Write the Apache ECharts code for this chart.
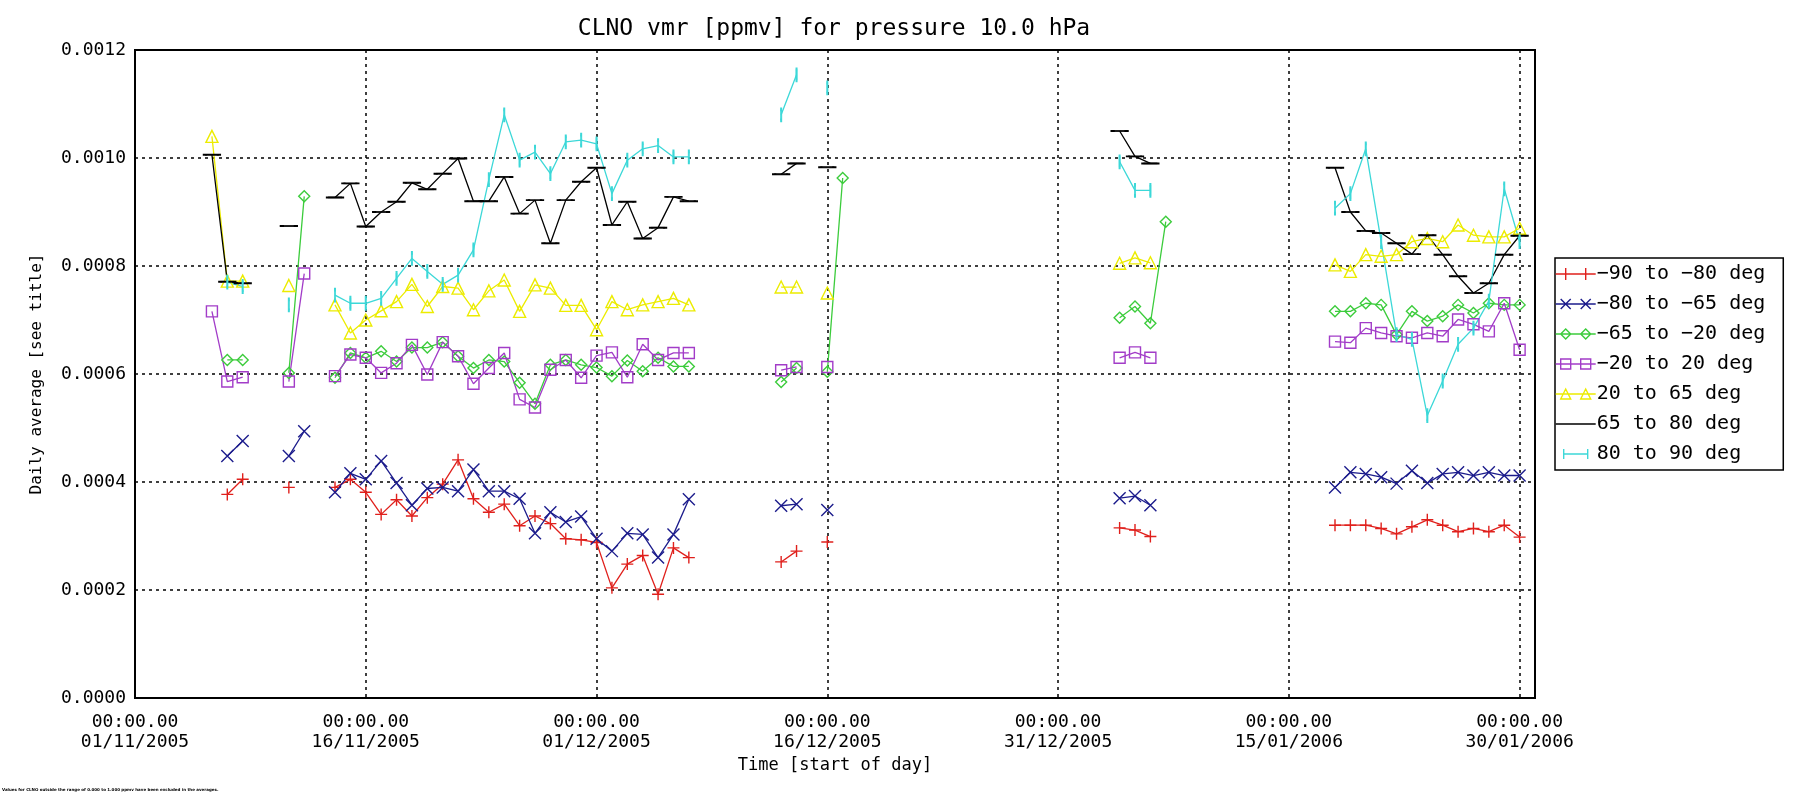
<!DOCTYPE html>
<html>
<head>
<meta charset="utf-8">
<script src="https://cdn.jsdelivr.net/npm/echarts@6/dist/echarts.min.js"></script>
<style>
  html, body { margin: 0; padding: 0; background: #fff; }
  #chart { width: 1794px; height: 798px; }
</style>
</head>
<body>
<div id="chart"></div>
<script>
const startDate = '2005-11-01'
const dates = [
  '2005-11-06', '2005-11-07', '2005-11-08',
  '2005-11-11', '2005-11-12',
  '2005-11-14', '2005-11-15', '2005-11-16', '2005-11-17', '2005-11-18', '2005-11-19',
  '2005-11-20', '2005-11-21', '2005-11-22', '2005-11-23', '2005-11-24', '2005-11-25',
  '2005-11-26', '2005-11-27', '2005-11-28', '2005-11-29', '2005-11-30', '2005-12-01',
  '2005-12-02', '2005-12-03', '2005-12-04', '2005-12-05', '2005-12-06', '2005-12-07',
  '2005-12-13', '2005-12-14', '2005-12-16', '2005-12-17',
  '2006-01-04', '2006-01-05', '2006-01-06', '2006-01-07',
  '2006-01-18', '2006-01-19', '2006-01-20', '2006-01-21', '2006-01-22', '2006-01-23',
  '2006-01-24', '2006-01-25', '2006-01-26', '2006-01-27', '2006-01-28', '2006-01-29', '2006-01-30'
]
const names = ['\u221290 to \u221280 deg', '\u221280 to \u221265 deg', '\u221265 to \u221220 deg',
  '\u221220 to 20 deg', '20 to 65 deg', '65 to 80 deg', '80 to 90 deg']

const red = [
  null, 0.000377, 0.000405,
  0.00039, null,
  0.00039, 0.000405, 0.000381, 0.00034, 0.000367, 0.000337, 0.000371, 0.000396, 0.000441, 0.000369, 0.000344, 0.000359,
  0.000319, 0.000337, 0.000323, 0.000295, 0.000293, 0.000288, 0.000204, 0.000248, 0.000264, 0.000192, 0.000278, 0.00026,
  0.000252, 0.000272, 0.000289, null,
  0.000315, 0.000311, 0.000299, null,
  0.00032, 0.00032, 0.00032, 0.000314, 0.000304, 0.000317, 0.00033, 0.00032, 0.000308, 0.000314, 0.000308, 0.00032, 0.000298
]
const blue = [
  null, 0.000448, 0.000476,
  0.000448, 0.000494,
  0.000381, 0.000416, 0.000405, 0.000439, 0.000398, 0.000357, 0.000388, 0.00039, 0.000383, 0.000423, 0.000383, 0.000383,
  0.000369, 0.000305, 0.000344, 0.000326, 0.000336, 0.000295, 0.000272, 0.000305, 0.000303, 0.00026, 0.000303, 0.000368,
  0.000356, 0.000359, 0.000348, null,
  0.00037, 0.000374, 0.000357, null,
  0.00039, 0.000418, 0.000415, 0.000409, 0.000397, 0.000421, 0.000398, 0.000415, 0.000418, 0.000412, 0.000418, 0.000412, 0.000412
]
const green = [
  null, 0.000626, 0.000626,
  0.000602, 0.000929,
  0.000593, 0.000639, 0.00063, 0.000642, 0.000623, 0.000649, 0.000649, 0.000659, 0.000633, 0.000611, 0.000626, 0.000623,
  0.000584, 0.000545, 0.000617, 0.000626, 0.000617, 0.000612, 0.000596, 0.000625, 0.000605, 0.00063, 0.000614, 0.000614,
  0.000585, 0.000611, 0.000604, 0.000963,
  0.000704, 0.000725, 0.000694, 0.000882,
  0.000716, 0.000716, 0.000731, 0.000728, 0.000673, 0.000716, 0.000698, 0.000707, 0.000728, 0.000713, 0.000731, 0.000728, 0.000728
]
const purple = [
  0.000716, 0.000586, 0.000594,
  0.000586, 0.000786,
  0.000596, 0.000636, 0.00063, 0.000602, 0.00062, 0.000654, 0.000599, 0.000659, 0.000633, 0.000582, 0.000611, 0.000639,
  0.000553, 0.000538, 0.000608, 0.000626, 0.000593, 0.000634, 0.00064, 0.000594, 0.000655, 0.000626, 0.000639, 0.000639,
  0.000607, 0.000613, 0.000613, null,
  0.00063, 0.00064, 0.00063, null,
  0.00066, 0.000658, 0.000685, 0.000676, 0.00067, 0.000667, 0.000676, 0.00067, 0.000701, 0.000692, 0.000679, 0.000731, 0.000645
]
const yellow = [
  0.00104, 0.000772, 0.000772,
  0.000764, null,
  0.000728, 0.000676, 0.0007, 0.000717, 0.000734, 0.000766, 0.000725, 0.000762, 0.000759, 0.000719, 0.000754, 0.000774,
  0.000716, 0.000765, 0.000759, 0.000727, 0.000727, 0.000682, 0.000734, 0.000719, 0.000728, 0.000734, 0.00074, 0.000728,
  0.000761, 0.000761, 0.00075, null,
  0.000805, 0.000815, 0.000806, null,
  0.000802, 0.00079, 0.000821, 0.000818, 0.000821, 0.000845, 0.000851, 0.000845, 0.000876, 0.000857, 0.000854, 0.000854, 0.00087
]
const black = [
  0.001006, 0.000771, 0.000768,
  0.000874, null,
  0.000927, 0.000953, 0.000873, 0.0009, 0.000919, 0.000954, 0.000942, 0.000971, 0.000999, 0.00092, 0.00092, 0.000965,
  0.000897, 0.000922, 0.000842, 0.000922, 0.000956, 0.000982, 0.000876, 0.000919, 0.000851, 0.000871, 0.000928, 0.00092,
  0.00097, 0.00099, 0.000983, null,
  0.00105, 0.001003, 0.00099, null,
  0.000982, 0.0009, 0.000865, 0.000861, 0.000842, 0.000822, 0.000857, 0.000821, 0.000781, 0.00075, 0.000768, 0.000821, 0.000856
]
const cyan = [
  null, 0.00077, 0.000762,
  0.000728, null,
  0.000746, 0.000731, 0.000731, 0.00074, 0.000777, 0.000814, 0.00079, 0.000766, 0.000783, 0.00083, 0.00096, 0.00108,
  0.000996, 0.001011, 0.000971, 0.00103, 0.001033, 0.001026, 0.000934, 0.000996, 0.001017, 0.001023, 0.001002, 0.001002,
  0.00108, 0.001154, 0.00113, null,
  0.000993, 0.00094, 0.00094, null,
  0.000907, 0.000934, 0.001017, 0.000845, 0.000673, 0.000664, 0.000523, 0.000587, 0.000655, 0.000685, 0.000735, 0.000943, 0.000845
]
const yTicks = [0, 0.0002, 0.0004, 0.0006, 0.0008, 0.0010, 0.0012]

const mono = 'DejaVu Sans Mono'
const DAY = 86400000

// legend samples: line with the marker drawn at both ends (40 x 12 box)
const legendIcons = [
  'path://M0,6L40,6M10,0L10,12M30,0L30,12',
  'path://M0,6L40,6M5,1L15,11M15,1L5,11M25,1L35,11M35,1L25,11',
  'path://M0,6L40,6M10,1L15,6L10,11L5,6ZM30,1L35,6L30,11L25,6Z',
  'path://M0,6L40,6M5,1L15,1L15,11L5,11ZM25,1L35,1L35,11L25,11Z',
  'path://M0,6L40,6M10,1L15,11L5,11ZM30,1L35,11L25,11Z',
  'path://M0,0L0,0.01M0,12L0,11.99M0,6L40,6',
  'path://M0,6L0.01,6M40,6L39.99,6M8,6L32,6M8,1L8,11M32,1L32,11'
]

function toDay(s) {
  return Math.round((Date.parse(s + 'T00:00:00Z') - Date.parse(startDate + 'T00:00:00Z')) / DAY)
}
function pad(n) { return n < 10 ? '0' + n : '' + n }

// missing days break the line
function buildData(vals) {
  let out = []
  dates.forEach((d, i) => {
    let x = toDay(d)
    if (i > 0 && x - toDay(dates[i - 1]) > 1) out.push([x - 1, null])
    out.push([x, vals[i]])
  })
  return out
}

function fillOf(color, hollow) { return hollow ? 'rgba(0,0,0,0)' : color }

function makeSeries(name, vals, color, symbol, size, hollow) {
  return {
    name,
    type: 'line',
    data: buildData(vals),
    symbol,
    symbolSize: size,
    showSymbol: true,
    showAllSymbol: true,
    connectNulls: false,
    clip: false,
    lineStyle: { color, width: 1.3 },
    itemStyle: { color: fillOf(color, hollow), borderColor: color, borderWidth: 1.4 },
    emphasis: { disabled: true }
  }
}

const styles = [
  { data: red, color: '#e0201c', symbol: 'path://M0,5L10,5M5,0L5,10', size: 12, hollow: false },
  { data: blue, color: '#1c1c8c', symbol: 'path://M0,0L10,10M10,0L0,10', size: 12, hollow: false },
  { data: green, color: '#3ccc3c', symbol: 'path://M5,0L10,5L5,10L0,5Z', size: 11, hollow: true },
  { data: purple, color: '#a23cc8', symbol: 'path://M0,0L10,0L10,10L0,10Z', size: 11, hollow: true },
  { data: yellow, color: '#ecec00', symbol: 'path://M5,0L10,10L0,10Z', size: 12, hollow: true },
  { data: black, color: '#000000', symbol: 'rect', size: [14, 1.5], hollow: false },
  { data: cyan, color: '#3cd8d8', symbol: 'rect', size: [1.5, 11], hollow: false }
]

let chart = echarts.init(document.getElementById('chart'))
let option = {
  animation: false,
  backgroundColor: '#fff',
  grid: { left: 135, top: 50, width: 1400, height: 648, show: true, borderColor: '#000', borderWidth: 2 },
  xAxis: {
    type: 'value',
    min: 0,
    max: 91,
    interval: 15,
    name: 'Time [start of day]',
    nameLocation: 'middle',
    nameGap: 58,
    nameTextStyle: { fontFamily: mono, fontSize: 17, color: '#000' },
    axisLine: { show: true, lineStyle: { color: '#000', width: 2 } },
    axisTick: { show: false },
    splitLine: { show: true, lineStyle: { color: '#000', width: 1.5, type: [3, 4] } },
    axisLabel: {
      showMaxLabel: false,
      margin: 14,
      fontFamily: mono,
      fontSize: 18,
      lineHeight: 20,
      color: '#000',
      formatter: function (v) {
        if (v % 15 !== 0) return ''
        let t = new Date(Date.parse(startDate + 'T00:00:00Z') + v * DAY)
        return '00:00.00\n' + pad(t.getUTCDate()) + '/' + pad(t.getUTCMonth() + 1) + '/' + t.getUTCFullYear()
      }
    }
  },
  yAxis: {
    type: 'value',
    min: yTicks[0],
    max: yTicks[yTicks.length - 1],
    interval: yTicks[1] - yTicks[0],
    name: 'Daily average [see title]',
    nameLocation: 'middle',
    nameGap: 90,
    nameTextStyle: { fontFamily: mono, fontSize: 16, color: '#000' },
    axisLine: { show: true, lineStyle: { color: '#000', width: 2 } },
    axisTick: { show: false },
    splitLine: { show: true, lineStyle: { color: '#000', width: 1.5, type: [3, 4] } },
    axisLabel: {
      margin: 9,
      fontFamily: mono,
      fontSize: 18,
      color: '#000',
      formatter: v => v.toFixed(4)
    }
  },
  legend: {
    orient: 'vertical',
    left: 1555,
    top: 258,
    padding: [6, 18, 6, 0],
    itemWidth: 40,
    itemHeight: 12,
    itemGap: 10,
    borderColor: '#000',
    borderWidth: 1.5,
    backgroundColor: '#fff',
    selectedMode: false,
    textStyle: { fontFamily: mono, fontSize: 20, lineHeight: 20, color: '#000', padding: [0, 0, 0, -4] },
    data: names.map((n, i) => ({
      name: n,
      icon: legendIcons[i],
      itemStyle: { color: fillOf(styles[i].color, styles[i].hollow), borderColor: styles[i].color, borderWidth: 1.4 }
    }))
  },
  graphic: [
    {
      type: 'text', x: 834, y: 29,
      style: { text: 'CLNO vmr [ppmv] for pressure 10.0 hPa', font: '23px "DejaVu Sans Mono"', fill: '#000', textAlign: 'center', textVerticalAlign: 'middle' }
    },
    {
      type: 'text', x: 2, y: 790,
      style: { text: 'Values for CLNO outside the range of 0.000 to 1.000 ppmv have been excluded in the averages.', font: 'bold 4px "DejaVu Sans"', fill: '#000', textVerticalAlign: 'middle' }
    }
  ],
  series: styles.map((s, i) => makeSeries(names[i], s.data, s.color, s.symbol, s.size, s.hollow))
}
chart.setOption(option)
</script>
</body>
</html>
